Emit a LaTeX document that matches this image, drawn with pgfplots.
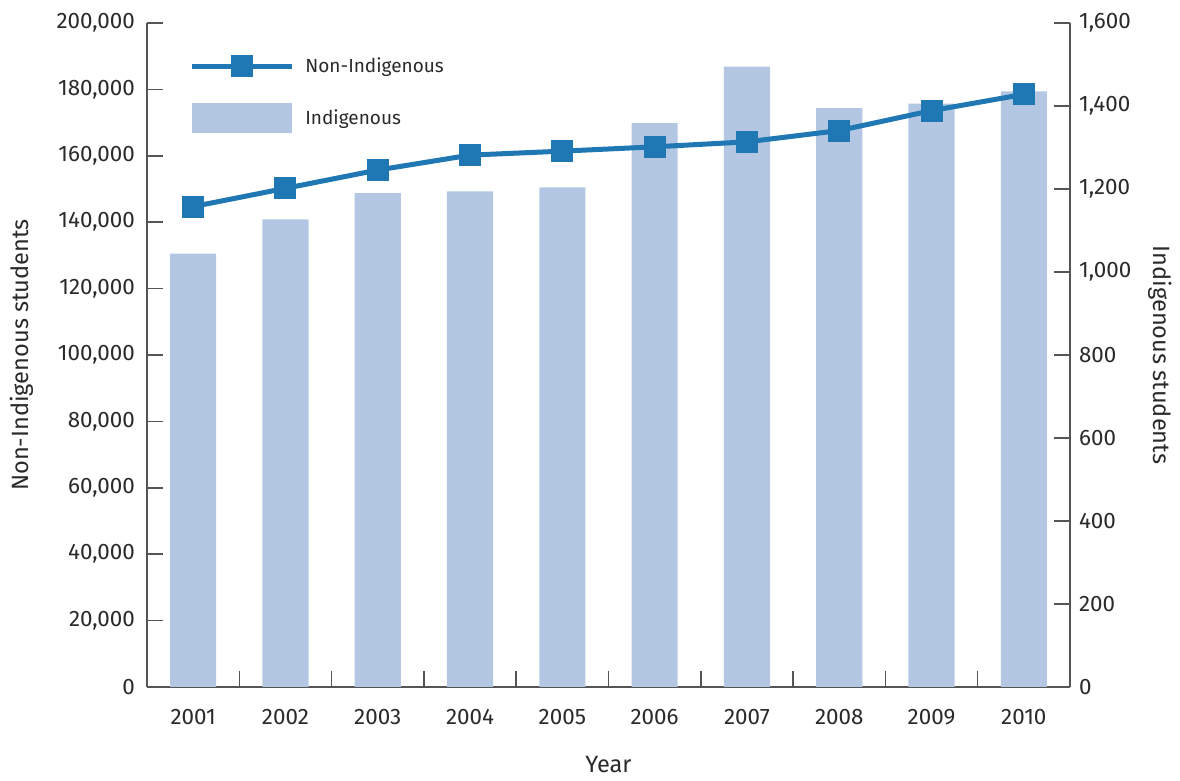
\documentclass[border=0pt]{standalone}
\usepackage{fontspec}
\setmainfont{Fira Sans}
\usepackage{pgfplots}
\pgfplotsset{compat=1.18}
\definecolor{linecol}{HTML}{1F77B4}
\definecolor{barcol}{HTML}{B3C7E2}
\definecolor{axcol}{HTML}{555555}
\definecolor{txtcol}{HTML}{2A2A2A}
\pgfplotsset{
  lineleg/.style={legend image code/.code={\draw[mark repeat=2,mark phase=2,##1] plot coordinates {(0pt,0pt) (25pt,0pt) (50pt,0pt)};}},
  barleg/.style={legend image code/.code={\fill[barcol] (0pt,-7.5pt) rectangle (50pt,7.5pt);}},
  common/.style={
    width=461.5pt, height=332pt, scale only axis,
    xmin=0.5, xmax=10.5,
    tick align=inside,
    major tick length=8pt, minor tick length=8pt,
    every tick/.style={axcol, line width=0.75pt},
    axis line style={axcol, line width=0.75pt},
    tick label style={txtcol, font=\fontsize{11.2}{13}\selectfont},
    label style={txtcol, font=\fontsize{11.8}{14}\selectfont},
    /pgf/number format/assume math mode=true,
    /pgf/number format/fixed,
    /pgf/number format/precision=0,
    /pgf/number format/1000 sep={,},
    scaled y ticks=false,
  }
}
\begin{document}
\begin{tikzpicture}[font=\fontsize{10.5}{12}\selectfont]
\begin{axis}[common, name=ax,
  axis y line*=right, axis x line*=bottom,
  ymin=0, ymax=1600, ytick={0,200,...,1600},
  xtick={1,...,10},
  xticklabels={2001,2002,2003,2004,2005,2006,2007,2008,2009,2010},
  major x tick style={draw=none},
  minor xtick={1.5,2.5,...,9.5},
  xticklabel style={yshift=-7.5pt},
  yticklabel style={xshift=1pt},
  ylabel={Indigenous students},
  ylabel style={at={(axis description cs:1.0975,0.5)}, anchor=center, rotate=180},
  xlabel={Year},
  xlabel style={at={(axis description cs:0.5,-0.1175)}, anchor=center},
]
\addplot[ybar, bar width=0.5, fill=barcol, draw=none] coordinates {
 (1,1044) (2,1127) (3,1190) (4,1194) (5,1204)
 (6,1359) (7,1495) (8,1395) (9,1406) (10,1435)};
\end{axis}
\begin{axis}[common,
  axis y line*=left, axis x line=none,
  ymin=0, ymax=200000, ytick={0,20000,...,200000},
  xtick=\empty,
  yticklabel style={xshift=-2.5pt},
  ylabel={Non-Indigenous students},
  ylabel style={at={(axis description cs:-0.1354,0.5)}, anchor=center},
  legend style={draw=none, fill=none, at={(axis description cs:0.0455,0.955)}, anchor=north west,
    row sep=12pt, inner sep=0pt, font=\fontsize{9.5}{11}\selectfont, text=txtcol,
    /tikz/every odd column/.append style={column sep=3.5pt}},
  legend cell align=left,
]
\addplot[linecol, line width=2.5pt, mark=square*, mark size=4.25pt,
  mark options={solid}, lineleg]
 coordinates {
 (1,144700) (2,150200) (3,155700) (4,160200) (5,161400)
 (6,162700) (7,164200) (8,167600) (9,173600) (10,178500)};
\addlegendentry{Non-Indigenous}
\addlegendimage{barcol, fill=barcol, draw=none, barleg}
\addlegendentry{Indigenous}
\end{axis}
\pgfresetboundingbox
\path ([shift={(-73.5pt,-47pt)}]ax.south west) rectangle ([shift={(516.5pt,343.5pt)}]ax.south west);
\end{tikzpicture}
\end{document}
